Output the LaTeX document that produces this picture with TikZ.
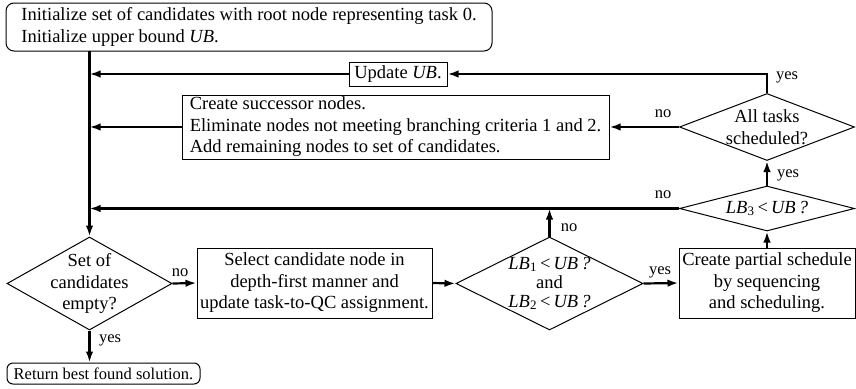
\documentclass[tikz,border=0pt]{standalone}
\usepackage{fontspec}
\setmainfont{Liberation Serif}
\usetikzlibrary{shapes.geometric,arrows.meta}
\newcommand{\LBi}[1]{{\itshape LB}\textsubscript{#1}\,<\,{\itshape UB\,?}}
\begin{document}
\begin{tikzpicture}[x=1pt,y=-1pt,
  font=\fontsize{18.5}{21.5}\selectfont,
  box/.style={draw, line width=1pt, inner sep=0pt},
  rbox/.style={box, rounded corners=8pt},
  dia/.style={draw, line width=1pt, diamond, inner sep=0pt},
  diatext/.style={align=center, inner sep=0pt},
  conn/.style={line width=2.2pt},
  arr/.style={conn, -{Latex[length=11pt,width=7.5pt]}},
  lbl/.style={font=\fontsize{16.5}{18}\selectfont, inner sep=0pt}]
\useasboundingbox (0,0) rectangle (856,388);

% boxes
\node[rbox, minimum width=486pt, minimum height=48pt, align=left] (init) at (249,27)
  {Initialize set of candidates with root node representing task 0.\\
   Initialize upper bound \textit{UB}.};
\node[box, minimum width=98pt, minimum height=24pt] (ub) at (398,74)
  {Update \textit{UB}.};
\node[box, minimum width=427pt, minimum height=64pt, align=left] (succ) at (395.5,127)
  {Create successor nodes.\\
   Eliminate nodes not meeting branching criteria 1 and 2.\\
   Add remaining nodes to set of candidates.};
\node[box, minimum width=235pt, minimum height=70pt, align=center] (sel) at (314.5,283)
  {Select candidate node in\\ depth-first manner and\\ update task-to-QC assignment.};
\node[box, minimum width=176pt, minimum height=70pt, align=center] (part) at (767,283)
  {Create partial schedule\\ by sequencing\\ and scheduling.};
\node[rbox, rounded corners=6pt, minimum width=193pt, minimum height=21pt,
      font=\fontsize{16.5}{19}\selectfont] (ret) at (103.5,373.5)
  {Return best found solution.};

% decisions
\node[dia, minimum width=175pt, minimum height=67pt] (alld) at (767,127) {};
\node[diatext] (alldt) at (alld) {All tasks\\ scheduled?};
\node[dia, minimum width=175pt, minimum height=45pt] (lb3) at (767,208.5) {};
\node[diatext] (lb3t) at (lb3) {\LBi{3}};
\node[dia, minimum width=187pt, minimum height=93pt] (lb12) at (549.5,283.5) {};
\node[diatext, font=\fontsize{18.5}{19}\selectfont] (lb12t) at (lb12) {\LBi{1}\\ and\\ \LBi{2}};
\node[dia, minimum width=165pt, minimum height=93pt] (setd) at (89.5,283.5) {};
\node[diatext] (setdt) at (setd) {Set of\\ candidates\\ empty?};

% main line on the left
\coordinate (spine) at (89.5,51);
\draw[arr] (spine) -- (setd.north);

% connectors
\draw[arr] (alld.north) |- (ub.east);
\draw[arr] (ub.west) -- (ub.west -| spine);
\draw[arr] (alld.west) -- (succ.east);
\draw[arr] (succ.west) -- (succ.west -| spine);
\draw[arr] (lb3.north) -- (alld.south);
\draw[arr] (lb3.west) -- (lb3.west -| spine);
\draw[arr] (part.north) -- (lb3.south);
\draw[arr] (lb12.north) -- (lb12.north |- lb3.west);
\draw[arr] (lb12.east) -- (part.west);
\draw[arr] (sel.east) -- (lb12.west);
\draw[arr] (setd.east) -- (sel.west);
\draw[arr] (setd.south) -- (ret.north -| setd.south);

% branch labels
\node[lbl] (y1) at (787,77) {yes};
\node[lbl] (n1) at (663,114) {no};
\node[lbl] (y2) at (788,175) {yes};
\node[lbl] (n2) at (663,195) {no};
\node[lbl] (n3) at (569,228) {no};
\node[lbl] (y3) at (660,272) {yes};
\node[lbl] (n4) at (180,273) {no};
\node[lbl] (y4) at (110,340) {yes};
\end{tikzpicture}
\end{document}
